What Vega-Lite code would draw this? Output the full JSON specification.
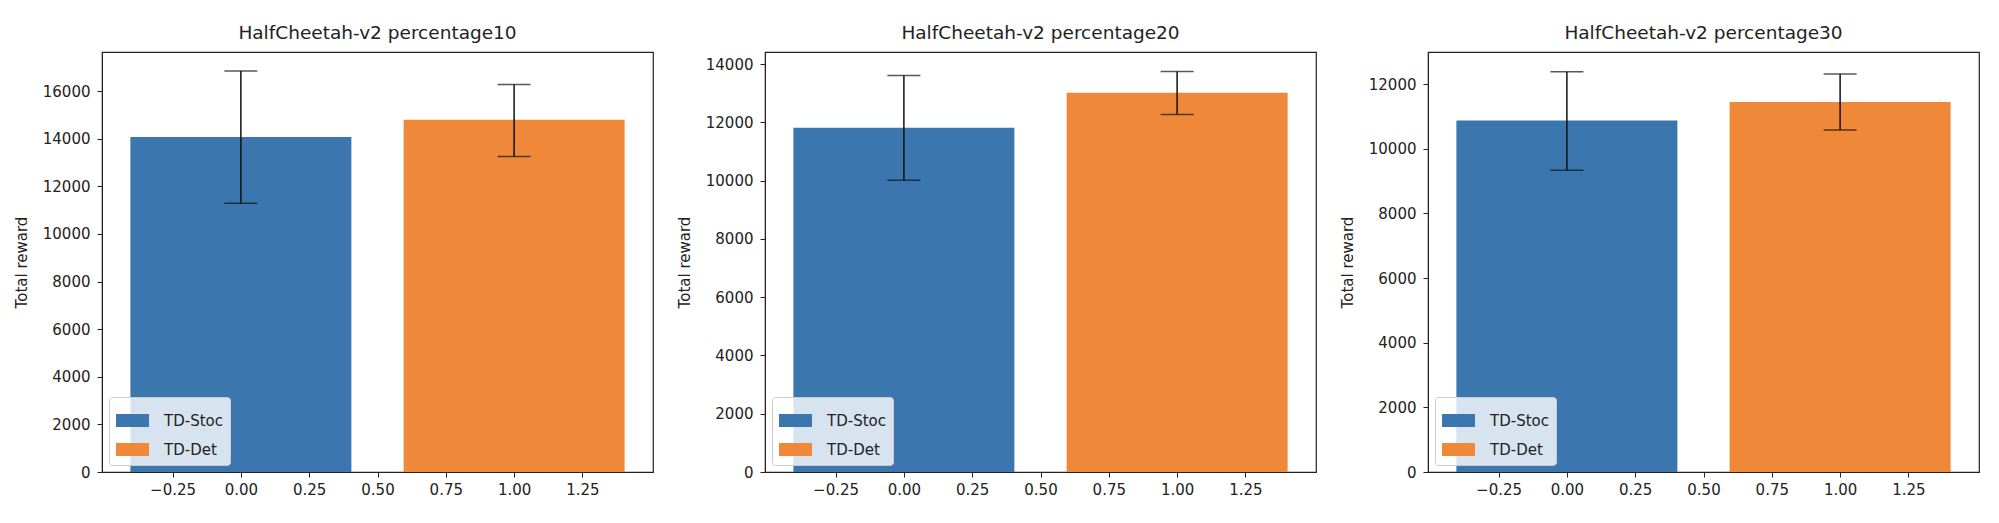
{
  "$schema": "https://vega.github.io/schema/vega-lite/v6.json",
  "background": "white",
  "padding": {"left": 13, "top": 22, "right": 5, "bottom": 5},
  "config": {
    "font": "DejaVu Sans",
    "view": {"stroke": "#222", "strokeWidth": 1.2},
    "axis": {
      "labelFont": "DejaVu Sans", "labelFontSize": 15, "labelColor": "#222",
      "titleFont": "DejaVu Sans", "titleFontSize": 15, "titleFontWeight": "normal", "titleColor": "#222",
      "tickColor": "#222", "domainColor": "#222", "tickSize": 5, "labelPadding": 7, "titlePadding": 13, "grid": false
    },
    "axisX": {"labelPadding": 5},
    "title": {"font": "DejaVu Sans", "fontSize": 18.5, "fontWeight": "normal", "color": "#222", "offset": 10},
    "legend": {
      "orient": "bottom-left", "offset": 7, "title": null,
      "labelFont": "DejaVu Sans", "labelFontSize": 15, "labelColor": "#222", "labelOffset": 15,
      "symbolType": "M-1,-0.394H1V0.394H-1Z", "symbolSize": 1089, "symbolStrokeWidth": 0,
      "fillColor": "rgba(255,255,255,0.8)", "strokeColor": "#ccc", "cornerRadius": 3, "padding": 7, "rowPadding": 4
    }
  },
  "data": {
    "values": [
      {"panel": 10, "method": "TD-Stoc", "pos": 0, "mean": 14070, "lo": 11290, "hi": 16840},
      {"panel": 10, "method": "TD-Det", "pos": 1, "mean": 14790, "lo": 13250, "hi": 16280},
      {"panel": 20, "method": "TD-Stoc", "pos": 0, "mean": 11820, "lo": 10020, "hi": 13610},
      {"panel": 20, "method": "TD-Det", "pos": 1, "mean": 13020, "lo": 12270, "hi": 13750},
      {"panel": 30, "method": "TD-Stoc", "pos": 0, "mean": 10870, "lo": 9330, "hi": 12380},
      {"panel": 30, "method": "TD-Det", "pos": 1, "mean": 11440, "lo": 10580, "hi": 12310}
    ]
  },
  "spacing": 22,
  "resolve": {"scale": {"color": "independent", "y": "independent"}, "legend": {"color": "independent"}},
  "hconcat": [
    {
      "title": "HalfCheetah-v2 percentage10",
      "width": 551, "height": 420,
      "transform": [{"filter": "datum.panel == 10"}],
      "encoding": {
        "x": {"field": "pos", "type": "quantitative", "title": null,
              "scale": {"domain": [-0.49, 1.49], "nice": false, "zero": false},
              "axis": {"values": [-0.25, 0, 0.25, 0.5, 0.75, 1, 1.25], "format": ".2f"}}
      },
      "layer": [
        {
          "mark": {"type": "bar", "width": 221},
          "encoding": {
            "y": {"field": "mean", "type": "quantitative", "title": "Total reward",
                  "scale": {"domain": [0, 17640], "nice": false},
                  "axis": {"values": [0, 2000, 4000, 6000, 8000, 10000, 12000, 14000, 16000], "format": "d"}},
            "color": {"field": "method", "type": "nominal",
                      "scale": {"domain": ["TD-Stoc", "TD-Det"], "range": ["#3b76ae", "#ef8838"]}}
          }
        },
        {
          "mark": {"type": "rule", "color": "#111", "strokeWidth": 1.5},
          "encoding": {"y": {"field": "lo", "type": "quantitative"}, "y2": {"field": "hi"}}
        },
        {
          "mark": {"type": "tick", "orient": "horizontal", "color": "#111", "size": 33, "thickness": 1.5},
          "encoding": {"y": {"field": "lo", "type": "quantitative"}}
        },
        {
          "mark": {"type": "tick", "orient": "horizontal", "color": "#111", "size": 33, "thickness": 1.5},
          "encoding": {"y": {"field": "hi", "type": "quantitative"}}
        }
      ]
    },
    {
      "title": "HalfCheetah-v2 percentage20",
      "width": 551, "height": 420,
      "transform": [{"filter": "datum.panel == 20"}],
      "encoding": {
        "x": {"field": "pos", "type": "quantitative", "title": null,
              "scale": {"domain": [-0.49, 1.49], "nice": false, "zero": false},
              "axis": {"values": [-0.25, 0, 0.25, 0.5, 0.75, 1, 1.25], "format": ".2f"}}
      },
      "layer": [
        {
          "mark": {"type": "bar", "width": 221},
          "encoding": {
            "y": {"field": "mean", "type": "quantitative", "title": "Total reward",
                  "scale": {"domain": [0, 14420], "nice": false},
                  "axis": {"values": [0, 2000, 4000, 6000, 8000, 10000, 12000, 14000], "format": "d"}},
            "color": {"field": "method", "type": "nominal",
                      "scale": {"domain": ["TD-Stoc", "TD-Det"], "range": ["#3b76ae", "#ef8838"]}}
          }
        },
        {
          "mark": {"type": "rule", "color": "#111", "strokeWidth": 1.5},
          "encoding": {"y": {"field": "lo", "type": "quantitative"}, "y2": {"field": "hi"}}
        },
        {
          "mark": {"type": "tick", "orient": "horizontal", "color": "#111", "size": 33, "thickness": 1.5},
          "encoding": {"y": {"field": "lo", "type": "quantitative"}}
        },
        {
          "mark": {"type": "tick", "orient": "horizontal", "color": "#111", "size": 33, "thickness": 1.5},
          "encoding": {"y": {"field": "hi", "type": "quantitative"}}
        }
      ]
    },
    {
      "title": "HalfCheetah-v2 percentage30",
      "width": 551, "height": 420,
      "transform": [{"filter": "datum.panel == 30"}],
      "encoding": {
        "x": {"field": "pos", "type": "quantitative", "title": null,
              "scale": {"domain": [-0.49, 1.49], "nice": false, "zero": false},
              "axis": {"values": [-0.25, 0, 0.25, 0.5, 0.75, 1, 1.25], "format": ".2f"}}
      },
      "layer": [
        {
          "mark": {"type": "bar", "width": 221},
          "encoding": {
            "y": {"field": "mean", "type": "quantitative", "title": "Total reward",
                  "scale": {"domain": [0, 12990], "nice": false},
                  "axis": {"values": [0, 2000, 4000, 6000, 8000, 10000, 12000], "format": "d"}},
            "color": {"field": "method", "type": "nominal",
                      "scale": {"domain": ["TD-Stoc", "TD-Det"], "range": ["#3b76ae", "#ef8838"]}}
          }
        },
        {
          "mark": {"type": "rule", "color": "#111", "strokeWidth": 1.5},
          "encoding": {"y": {"field": "lo", "type": "quantitative"}, "y2": {"field": "hi"}}
        },
        {
          "mark": {"type": "tick", "orient": "horizontal", "color": "#111", "size": 33, "thickness": 1.5},
          "encoding": {"y": {"field": "lo", "type": "quantitative"}}
        },
        {
          "mark": {"type": "tick", "orient": "horizontal", "color": "#111", "size": 33, "thickness": 1.5},
          "encoding": {"y": {"field": "hi", "type": "quantitative"}}
        }
      ]
    }
  ]
}
